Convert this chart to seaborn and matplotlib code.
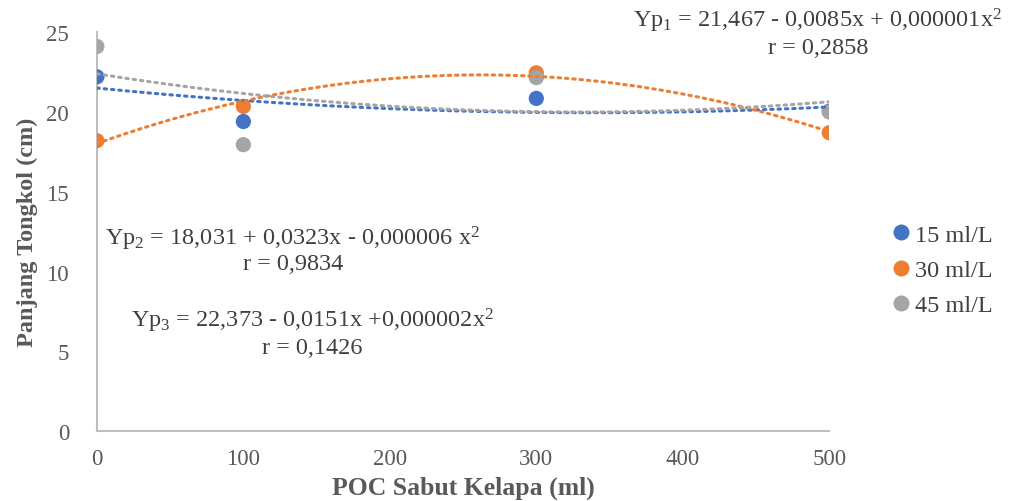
import numpy as np
import pandas as pd
import matplotlib
matplotlib.use("Agg")
import matplotlib.pyplot as plt
import seaborn as sns

# data
dosis = [0, 100, 300, 500]
series = ["15 ml/L", "30 ml/L", "45 ml/L"]
y_15 = [22.2, 19.4, 20.85, 20.05]
y_30 = [18.2, 20.35, 22.45, 18.7]
y_45 = [24.1, 17.95, 22.15, 20.0]
colors = ["#4472C4", "#ED7D31", "#A5A5A5"]

equations = [
    (r"Yp$_1$ = 21,467 - 0,0085x + 0,000001x$^2$", "r = 0,2858"),
    (r"Yp$_2$ = 18,031 + 0,0323x - 0,000006 x$^2$", "r = 0,9834"),
    (r"Yp$_3$ = 22,373 - 0,0151x +0,000002x$^2$", "r = 0,1426"),
]

df = pd.DataFrame({
    "x": dosis * 3,
    "y": y_15 + y_30 + y_45,
    "seri": [s for s in series for _ in dosis],
})

sns.set_style("white")
plt.rcParams["font.family"] = ["Liberation Serif", "DejaVu Serif"]
plt.rcParams["mathtext.fontset"] = "custom"
plt.rcParams["mathtext.rm"] = "Liberation Serif"
plt.rcParams["mathtext.it"] = "Liberation Serif:italic"
plt.rcParams["mathtext.bf"] = "Liberation Serif:bold"

fig = plt.figure(figsize=(10.2, 5.02), dpi=100)
ax = fig.add_axes([0.095, 0.139, 0.718, 0.795])

sns.scatterplot(data=df, x="x", y="y", hue="seri", palette=colors,
                s=120, edgecolor="none", ax=ax, zorder=3)

# polynomial (order 2) trend lines, like Excel
xs = np.linspace(0, 500, 200)
for vals, c in zip([y_15, y_30, y_45], colors):
    p = np.polyfit(dosis, vals, 2)
    ax.plot(xs, np.polyval(p, xs), color=c, lw=2.2,
            linestyle=(0, (0.8, 1.6)), dash_capstyle="round", zorder=4)

ax.set_xlim(0, 500)
ax.set_ylim(0, 25)
ax.set_xticks([0, 100, 200, 300, 400, 500])
ax.set_yticks([0, 5, 10, 15, 20, 25])
ax.set_xlabel("POC Sabut Kelapa (ml)", fontsize=18.5, fontweight="bold", color="#595959", labelpad=5)
ax.set_ylabel("Panjang Tongkol (cm)", fontsize=17.5, fontweight="bold", color="#595959", labelpad=6)
ax.tick_params(axis="both", colors="#bfbfbf", labelcolor="#595959", labelsize=16.5,
               length=6, width=1.5, direction="out")
ax.tick_params(axis="x", pad=6)
ax.tick_params(axis="y", pad=14)
for side in ["top", "right"]:
    ax.spines[side].set_visible(False)
for side in ["left", "bottom"]:
    ax.spines[side].set_color("#bfbfbf")
    ax.spines[side].set_linewidth(1.5)

ax.legend(loc="center left", bbox_to_anchor=(0.876, 0.46), bbox_transform=fig.transFigure,
          frameon=False, fontsize=17.5, handletextpad=0.3, handlelength=0.6,
          labelspacing=0.55, markerscale=1.05, borderaxespad=0, borderpad=0)
for t in ax.get_legend().get_texts():
    t.set_color("#404040")

txt_kw = dict(ha="center", va="center", fontsize=17.5, color="#404040")
pos = [(818, 21, 48), (293, 239, 265), (312, 321, 348)]
for (eq, r), (px, py1, py2) in zip(equations, pos):
    fig.text(px / 1020, 1 - py1 / 502, eq, **txt_kw)
    fig.text(px / 1020, 1 - py2 / 502, r, **txt_kw)

fig.savefig("out.png", dpi=100)
